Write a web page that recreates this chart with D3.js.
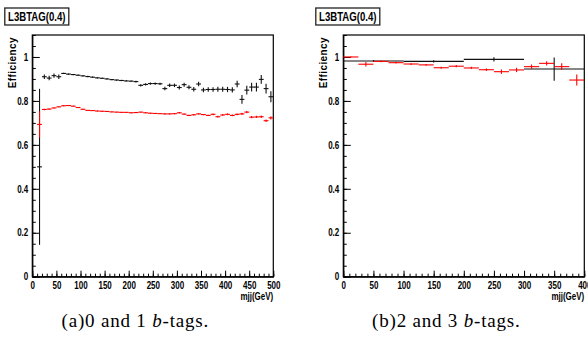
<!DOCTYPE html>
<html>
<head>
<meta charset="utf-8">
<script src="https://cdn.jsdelivr.net/npm/d3@7"></script>
<style>
  body { margin: 0; background: #fff; }
  .tick text { font-family: "Liberation Sans", Arial, sans-serif; font-weight: bold; font-size: 10px; }
</style>
</head>
<body>
<script>

// panel (a): 10 GeV bins, 0 and 1 b-tags
var massA = [15, 25, 35, 45, 55, 65, 75, 85, 95, 105, 115, 125, 135, 145, 155, 165, 175, 185, 195, 205,
    215, 225, 235, 245, 255, 265, 275, 285, 295, 305, 315, 325, 335, 345, 355, 365, 375, 385, 395, 405,
    415, 425, 435, 445, 455, 465, 475, 485, 495];
var blackA = [0.500, 0.910, 0.904, 0.915, 0.910, 0.925, 0.922, 0.920, 0.917, 0.914, 0.911, 0.908, 0.905, 0.903, 0.900, 0.897, 0.895, 0.893, 0.891, 0.890,
    0.888, 0.871, 0.875, 0.879, 0.879, 0.878, 0.856, 0.871, 0.871, 0.861, 0.874, 0.862, 0.853, 0.877, 0.850, 0.852, 0.852, 0.853, 0.853, 0.852,
    0.850, 0.877, 0.807, 0.849, 0.863, 0.863, 0.898, 0.856, 0.819];
var blackErrA = [0.355, 0.010, 0.010, 0.010, 0.010, 0.003, 0.003, 0.003, 0.003, 0.003, 0.003, 0.003, 0.003, 0.003, 0.003, 0.003, 0.003, 0.003, 0.003, 0.003,
    0.004, 0.005, 0.005, 0.005, 0.005, 0.005, 0.008, 0.008, 0.008, 0.009, 0.009, 0.009, 0.010, 0.010, 0.010, 0.010, 0.010, 0.011, 0.011, 0.012,
    0.012, 0.015, 0.020, 0.020, 0.020, 0.020, 0.020, 0.022, 0.025];
var redA = [0.693, 0.761, 0.763, 0.768, 0.773, 0.778, 0.779, 0.776, 0.770, 0.762, 0.757, 0.756, 0.754, 0.753, 0.752, 0.750, 0.749, 0.748, 0.748, 0.746,
    0.747, 0.749, 0.746, 0.744, 0.743, 0.742, 0.741, 0.741, 0.742, 0.746, 0.740, 0.734, 0.737, 0.741, 0.738, 0.734, 0.739, 0.728, 0.736, 0.739,
    0.734, 0.739, 0.741, 0.749, 0.726, 0.727, 0.728, 0.710, 0.723];
var redErrA = [0.060, 0.003, 0.003, 0.002, 0.002, 0.002, 0.002, 0.002, 0.002, 0.002, 0.002, 0.002, 0.002, 0.002, 0.002, 0.002, 0.002, 0.002, 0.002, 0.002,
    0.002, 0.002, 0.002, 0.002, 0.002, 0.002, 0.003, 0.003, 0.003, 0.003, 0.003, 0.003, 0.003, 0.003, 0.003, 0.003, 0.004, 0.004, 0.004, 0.004,
    0.004, 0.004, 0.005, 0.005, 0.005, 0.005, 0.006, 0.006, 0.007];

// panel (b): 2 and 3 b-tags
var massB_black = [50, 150, 250, 350];
var blackB = [0.982, 0.980, 0.989, 0.945];
var blackErrB = [0.004, 0.005, 0.010, 0.053];
var massB_red = [12.5, 37.5, 62.5, 87.5, 112.5, 137.5, 162.5, 187.5, 212.5, 237.5, 262.5, 287.5, 312.5, 337.5, 362.5, 387.5];
var redB = [1.000, 0.967, 0.980, 0.974, 0.968, 0.964, 0.951, 0.958, 0.950, 0.942, 0.933, 0.941, 0.956, 0.971, 0.956, 0.895];
var redErrB = [0.002, 0.010, 0.004, 0.004, 0.004, 0.004, 0.005, 0.005, 0.005, 0.006, 0.010, 0.010, 0.010, 0.010, 0.015, 0.025];

var yTicks = [0, 0.2, 0.4, 0.6, 0.8, 1];
var xTicksA = [0, 50, 100, 150, 200, 250, 300, 350, 400, 450, 500];
var xTicksB = [0, 50, 100, 150, 200, 250, 300, 350, 400];

var svg = d3.select("body").append("svg")
    .attr("width", 588)
    .attr("height", 348);

// squeeze text horizontally, the ROOT labels use a narrow face
function narrow(sel, k) {
    sel.each(function () {
        var w = this.getComputedTextLength();
        d3.select(this).attr("textLength", w * k).attr("lengthAdjust", "spacingAndGlyphs");
    });
}

function panel(left, xmax, xTicks, series, caption) {
    var fl = left, fr = left + 241, ft = 35, fb = 276.7;
    var x = d3.scaleLinear().domain([0, xmax]).range([fl, fr]);
    var y = d3.scaleLinear().domain([0, 1.1]).range([fb, ft]);

    // title box
    var bx = left - 27.5;
    svg.append("rect")
        .attr("x", bx).attr("y", 8).attr("width", 64).attr("height", 17)
        .attr("fill", "#fff").attr("stroke", "#222").attr("stroke-width", 1.3);
    svg.append("text")
        .attr("x", bx + 32).attr("y", 21)
        .attr("text-anchor", "middle")
        .style("font-family", "'Liberation Sans', sans-serif")
        .style("font-weight", "bold").style("font-size", "12px")
        .text("L3BTAG(0.4)")
        .call(narrow, 0.8);

    // frame
    svg.append("rect")
        .attr("x", fl).attr("y", ft).attr("width", fr - fl).attr("height", fb - ft)
        .attr("fill", "none").attr("stroke", "#000").attr("stroke-width", 1.2);

    // minor ticks
    svg.append("g")
        .attr("transform", "translate(0," + fb + ")")
        .call(d3.axisBottom(x).tickValues(x.ticks(xmax / 10)).tickSize(-3).tickFormat(""))
        .call(g => g.select(".domain").remove());
    svg.append("g")
        .attr("transform", "translate(" + fl + ",0)")
        .call(d3.axisLeft(y).tickValues(y.ticks(22)).tickSize(-3.5).tickFormat(""))
        .call(g => g.select(".domain").remove());

    // major ticks
    svg.append("g")
        .attr("transform", "translate(0," + fb + ")")
        .call(d3.axisBottom(x).tickValues(xTicks).tickSizeInner(-6).tickSizeOuter(0).tickPadding(5).tickFormat(d3.format("d")))
        .call(g => g.select(".domain").attr("stroke-width", 1.2))
        .call(g => g.selectAll(".tick text").call(narrow, 0.8));
    svg.append("g")
        .attr("transform", "translate(" + fl + ",0)")
        .call(d3.axisLeft(y).tickValues(yTicks).tickSizeInner(-7.5).tickSizeOuter(0).tickPadding(4).tickFormat(d3.format("~g")))
        .call(g => g.select(".domain").attr("stroke-width", 1.2))
        .call(g => g.selectAll(".tick text").call(narrow, 0.8));

    svg.append("text")
        .attr("transform", "translate(" + (left - 16) + ",37) rotate(-90)")
        .attr("text-anchor", "end")
        .style("font-family", "'Liberation Sans', sans-serif")
        .style("font-weight", "bold").style("font-size", "10px")
        .style("letter-spacing", "0.4px")
        .text("Efficiency");
    svg.append("text")
        .attr("x", fr).attr("y", 299.5)
        .attr("text-anchor", "end")
        .style("font-family", "'Liberation Sans', sans-serif")
        .style("font-weight", "bold").style("font-size", "10px")
        .text("mjj(GeV)")
        .call(narrow, 0.8);

    // error-bar points
    series.forEach(function (s) {
        var pts = s.mass.map(function (m, i) { return { m: m, v: s.val[i], e: s.err[i] }; });
        var g = svg.append("g").attr("stroke", s.color).attr("stroke-width", s.width);
        g.selectAll("line.h").data(pts).enter().append("line")
            .attr("x1", d => x(d.m - s.hw)).attr("x2", d => x(d.m + s.hw))
            .attr("y1", d => y(d.v)).attr("y2", d => y(d.v));
        g.selectAll("line.v").data(pts).enter().append("line")
            .attr("x1", d => x(d.m)).attr("x2", d => x(d.m))
            .attr("y1", d => y(d.v - d.e)).attr("y2", d => y(d.v + d.e));
    });

    var cap = svg.append("text")
        .attr("x", left + 103).attr("y", 327)
        .attr("text-anchor", "middle")
        .style("font-family", "'Liberation Serif', 'Times New Roman', serif")
        .style("font-size", "19px")
        .style("letter-spacing", "0.8px");
    cap.append("tspan").text(caption[0]);
    cap.append("tspan").style("font-style", "italic").text("b");
    cap.append("tspan").text("-tags.");
}

panel(32.3, 500, xTicksA, [
    { mass: massA, val: blackA, err: blackErrA, hw: 5, color: "#111", width: 1.1 },
    { mass: massA, val: redA, err: redErrA, hw: 5, color: "#ff0000", width: 1.1 }
], ["(a)0 and 1 "]);

panel(343.3, 400, xTicksB, [
    { mass: massB_black, val: blackB, err: blackErrB, hw: 50, color: "#111", width: 1.1 },
    { mass: massB_red, val: redB, err: redErrB, hw: 12.5, color: "#ff0000", width: 1.1 }
], ["(b)2 and 3 "]);

</script>
</body>
</html>
